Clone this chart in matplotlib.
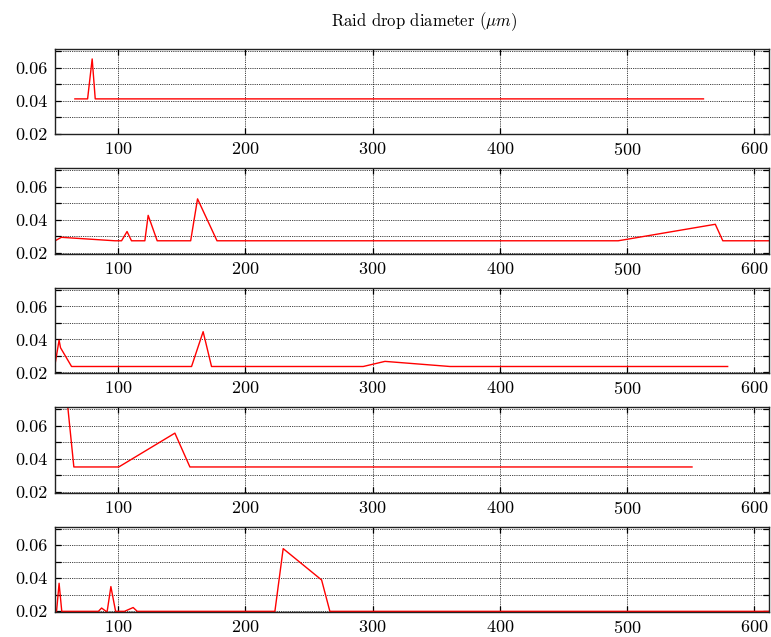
import matplotlib
matplotlib.use("Agg")
import matplotlib.pyplot as plt
from matplotlib.ticker import MultipleLocator, FuncFormatter

plt.rcParams['font.family'] = ['cmr10', 'DejaVu Serif']
plt.rcParams['mathtext.fontset'] = 'cm'
plt.rcParams['axes.unicode_minus'] = False
plt.rcParams['axes.formatter.use_mathtext'] = True

title = r"Raid drop diameter ($\mu m$)"

x1 = [66, 76, 79.6, 82, 560]
y1 = [0.041, 0.041, 0.0652, 0.041, 0.041]

x2 = [50, 55.4, 97.4, 102.7, 107, 110.5, 121, 123.6, 130.7, 157, 162.4, 177.7, 493, 569.3, 575.2, 612]
y2 = [0.0272, 0.0295, 0.0274, 0.0274, 0.033, 0.0274, 0.0274, 0.0428, 0.0274, 0.0274, 0.0528, 0.0274, 0.0274, 0.0374, 0.0274, 0.0274]

x3 = [50, 53.6, 54.7, 63.4, 157.7, 166.8, 173.4, 292.6, 309.7, 360.8, 579]
y3 = [0.023, 0.0396, 0.035, 0.0236, 0.0236, 0.0447, 0.0236, 0.0236, 0.0267, 0.0236, 0.0236]

x4 = [58, 65.2, 100.5, 144.6, 156.4, 551]
y4 = [0.09, 0.0351, 0.0351, 0.0556, 0.0351, 0.0351]

x5 = [50, 51.6, 53.6, 55.7, 84.5, 87, 90.5, 91.4, 94.3, 98, 105, 111.8, 115, 223.2, 229.7, 259.9, 266.4, 612]
y5 = [0.02, 0.02, 0.037, 0.02, 0.02, 0.022, 0.02, 0.02, 0.035, 0.02, 0.02, 0.0223, 0.02, 0.02, 0.058, 0.039, 0.02, 0.02]

series = [(x1, y1), (x2, y2), (x3, y3), (x4, y4), (x5, y5)]

fig, axes = plt.subplots(5, 1, figsize=(7.71, 6.37), dpi=100)
fig.subplots_adjust(left=0.0707, right=0.9974, top=0.923, bottom=0.039, hspace=0.40)

def yfmt(v, pos):
    k = int(round(v * 100))
    if k % 2 == 0:
        return "%.2f" % v
    return ""

for ax, (xs, ys) in zip(axes, series):
    ax.plot(xs, ys, color='red', lw=1.0)
    ax.set_xlim(50, 611.5)
    ax.set_ylim(0.0195, 0.0712)
    ax.xaxis.set_major_locator(MultipleLocator(100))
    ax.yaxis.set_major_locator(MultipleLocator(0.01))
    ax.yaxis.set_major_formatter(FuncFormatter(yfmt))
    ax.grid(True, color='black', linestyle=(0, (1, 1.2)), lw=0.6)
    ax.tick_params(direction='in', top=True, right=True, length=4, width=0.9,
                   labelsize=13, pad=5)
    for s in ax.spines.values():
        s.set_linewidth(1.0)
        s.set_color('#222222')

fig.text(0.55, 0.966, title, ha='center', va='center', fontsize=12)

fig.savefig("out.png", dpi=100)
